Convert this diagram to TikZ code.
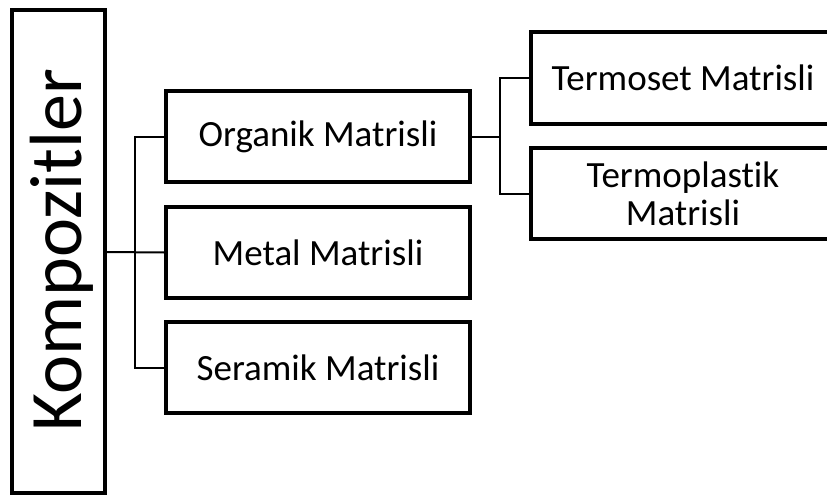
\documentclass[tikz,border=0pt]{standalone}
\usepackage{fontspec}
\setmainfont[Ligatures={NoCommon}]{Carlito}
\begin{document}
\begin{tikzpicture}[x=1pt,y=-1pt,
  box/.style={draw=black, line width=3.5pt, fill=white, inner sep=0pt, align=center,
    font=\fontsize{37}{38}\selectfont},
  conn/.style={draw=black, line width=2pt}]
\useasboundingbox (0,0) rectangle (827,495);
\clip (0,0) rectangle (827,495);
% root, set vertically
\node[box, minimum width=93pt, minimum height=483pt] (komp) at (58.5,251.5) {};
\node[rotate=90, font=\fontsize{74}{80}\selectfont, inner sep=0pt] (kompt) at (62,250) {Kompozitler};
% first level
\node[box, minimum width=304pt, minimum height=91pt] (org) at (318,136.5) {Organik Matrisli};
\node[box, minimum width=304pt, minimum height=91pt] (met) at (318,252.5) {Metal Matrisli};
\node[box, minimum width=304pt, minimum height=91pt] (ser) at (318,367.5) {Seramik Matrisli};
% second level
\node[box, minimum width=304pt, minimum height=92pt] (tset) at (683,78) {Termoset Matrisli};
\node[box, minimum width=304pt, minimum height=91pt] (tpla) at (683,193.5) {Termoplastik\\Matrisli};
% connectors
\coordinate (j1) at (135,252);
\coordinate (j2) at (500,136.5);
\draw[conn] (komp.east |- j1) -- (met.west);
\draw[conn] (org.west) -| (j1) |- (ser.west);
\draw[conn] (org.east) -- (j2);
\draw[conn] (tset.west) -| (j2) |- (tpla.west);
\end{tikzpicture}
\end{document}
